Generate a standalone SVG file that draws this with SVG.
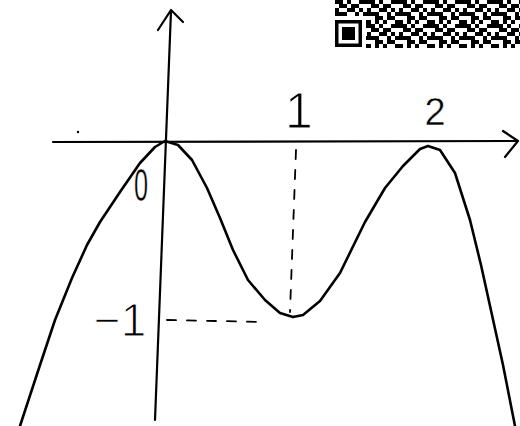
<svg xmlns="http://www.w3.org/2000/svg" width="520" height="426" viewBox="0 0 520 426">
<style>
.ink{fill:none;stroke:#000;stroke-linecap:round;stroke-linejoin:round}
.ax{stroke-width:2.2}
.cv{stroke-width:2.6}
.dash{stroke-width:1.8;stroke-dasharray:9 11}
.lbl{font-family:"Liberation Sans",Arial,sans-serif;fill:#000;text-anchor:middle;stroke:#fff;stroke-width:1.2}
.sm{stroke-width:0.5}
</style>
<defs>
<pattern id="qr" patternUnits="userSpaceOnUse" x="335" y="0" width="32" height="24">
<path fill="#000" d="M0 0h8v4h-8z M12 0h4v4h-4z M24 0h8v4h-8z M4 4h8v4h-8z M16 4h8v4h-8z M0 8h4v4h-4z M12 8h8v4h-8z M24 8h4v4h-4z M0 12h12v4h-12z M20 12h4v4h-4z M28 12h4v4h-4z M8 16h8v4h-8z M20 16h8v4h-8z M0 20h4v4h-4z M8 20h4v4h-4z M16 20h4v4h-4z M28 20h4v4h-4z"/>
</pattern>
</defs>
<rect width="520" height="426" fill="#fff"/>
<g id="qrcode">
<rect x="335" y="0" width="185" height="48" fill="url(#qr)"/>
<rect x="333" y="16" width="33" height="32" fill="#fff"/>
<rect x="335" y="20" width="27" height="27" fill="#000"/>
<rect x="338.5" y="23.5" width="20" height="20" fill="#fff"/>
<rect x="342" y="27" width="13" height="13" fill="#000"/>
</g>
<g id="axes">
<path class="ink ax" d="M53 142 L517 141"/>
<path class="ink ax" d="M503 131 L518 141 L505 157"/>
<path class="ink ax" d="M171 11 L155 420"/>
<path class="ink ax" d="M158 30 L171 10 L183 22"/>
<circle cx="78" cy="132" r="1.2" fill="#000"/>
</g>
<g id="guides">
<path class="ink dash" d="M296 150 L290 312"/>
<path class="ink dash" d="M167 320 L265 322"/>
</g>
<g id="curve">
<path class="ink cv" d="M20 426 L40 365 L55 320 L72 278 L87 245 L100 222 L120 192 L140 163 L155 147 L165 141 L178 145 L192 160 L207 188 L220 218 L233 250 L248 280 L265 300 L280 313 L293 317 L303 315 L320 301 L340 273 L365 222 L385 188 L403 166 L420 149 L428 146 L440 150 L455 173 L470 220 L481 265 L492 315 L503 365 L515 426"/>
</g>
<g id="labels">
<text class="lbl sm" font-size="46" transform="translate(141,201) scale(0.55,1)">0</text>
<text class="lbl" font-size="50" x="299" y="128">1</text>
<text class="lbl sm" font-size="38" x="435" y="125">2</text>
<text class="lbl" font-size="46" x="120" y="336">−1</text>
</g>
</svg>
